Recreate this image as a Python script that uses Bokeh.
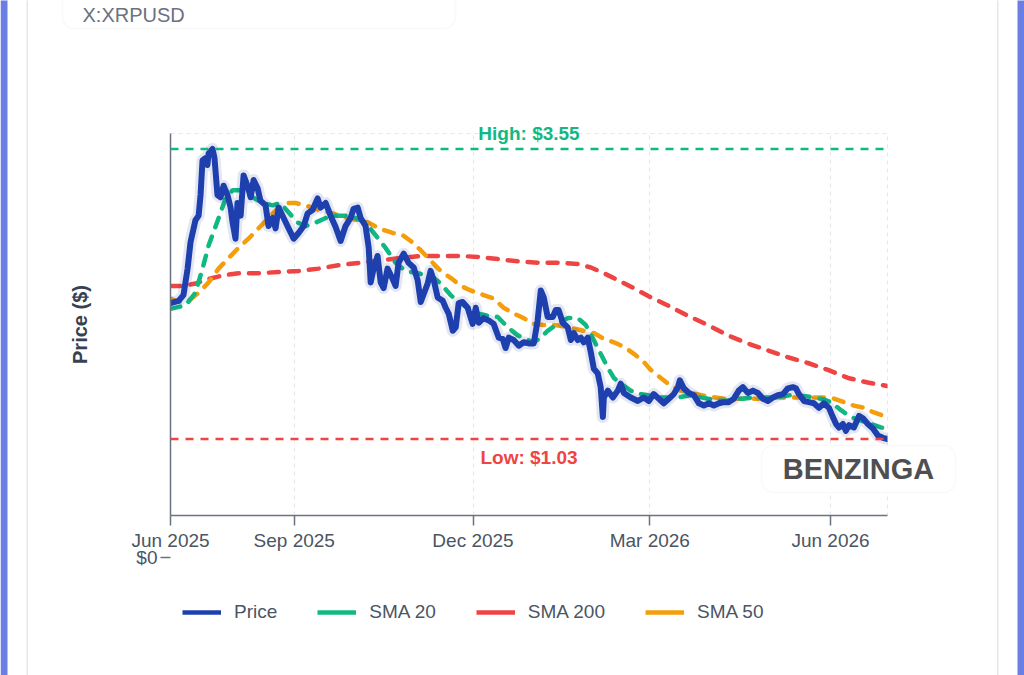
import pandas as pd
from bokeh.plotting import figure
from bokeh.models import (Range1d, FixedTicker, DatetimeTickFormatter, Span, Label,
                          BoxAnnotation, Legend, LegendItem)
from bokeh.embed import file_html
from bokeh.resources import INLINE

# ---------------- data ----------------
START_DATE = "2025-06-30"
END_DATE = "2026-06-30"
tick_dates = ["2025-06-30", "2025-09-01", "2025-12-01", "2026-03-01", "2026-06-01"]
HIGH = 3.55
LOW = 1.03
Y_MIN, Y_MAX = 0.365, 3.684
series_names = ["Price", "SMA 20", "SMA 200", "SMA 50"]

# day offsets from START_DATE
price_days = [0, 4.1, 6.6, 8.7, 10.2, 12.7, 14.3, 15.3, 16.3, 17.8,
              18.8, 19.4, 21.4, 22.4, 23.9, 25.5, 27.0, 29.0, 30.6, 31.6,
              33.1, 34.1, 35.7, 37.2, 39.2, 40.8, 42.3, 44.3, 45.8, 48.4,
              49.9, 52.0, 53.5, 55.0, 57.6, 60.1, 62.7, 65.2, 67.8, 69.8,
              72.3, 74.9, 76.4, 79.0, 81.5, 84.1, 86.6, 89.1, 91.7, 93.2,
              95.3, 96.8, 99.3, 100.9, 101.9, 103.4, 105.4, 107.0, 108.5, 110.5,
              113.1, 114.6, 116.1, 118.7, 121.2, 123.8, 125.8, 127.4, 128.9, 130.9,
              132.4, 134.0, 136.0, 138.6, 140.1, 141.6, 143.7, 145.2, 146.7, 148.7,
              151.3, 153.8, 155.4, 156.9, 159.4, 162.0, 164.5, 167.1, 169.1, 170.6,
              172.2, 174.7, 177.3, 179.8, 182.4, 184.9, 186.9, 188.5, 190.0, 192.0,
              194.6, 196.1, 197.6, 199.7, 202.2, 203.8, 205.3, 207.3, 208.9, 210.4,
              212.4, 214.0, 215.5, 217.5, 219.0, 220.1, 220.6, 222.6, 225.2, 227.7,
              229.2, 230.8, 234.3, 237.9, 240.9, 243.5, 246.0, 248.6, 251.1, 253.7,
              256.2, 258.3, 259.3, 261.3, 263.9, 266.4, 269.0, 271.5, 274.1, 276.6,
              279.2, 281.7, 284.2, 286.8, 289.3, 291.4, 293.9, 296.5, 299.0, 301.6,
              304.1, 306.7, 309.2, 311.8, 314.3, 316.8, 318.4, 319.9, 322.5, 325.0,
              327.5, 330.1, 332.6, 335.2, 337.2, 338.8, 340.3, 342.3, 343.8, 345.4,
              347.9, 350.5, 352.5, 355.0, 357.6, 360.1, 362.6, 365.0]
price_vals = [2.21, 2.23, 2.28, 2.51, 2.74, 2.93, 2.97, 3.15, 3.45, 3.47,
              3.41, 3.51, 3.55, 3.47, 3.15, 3.13, 3.23, 3.15, 3.04, 2.91,
              2.77, 3.08, 2.97, 3.32, 3.23, 3.13, 3.28, 3.21, 3.10, 3.06,
              2.88, 2.95, 2.86, 3.04, 2.95, 2.86, 2.77, 2.82, 2.88, 2.99,
              3.02, 3.12, 3.04, 3.08, 2.97, 2.87, 2.75, 2.88, 2.95, 3.03,
              3.04, 2.95, 2.88, 2.69, 2.39, 2.51, 2.62, 2.39, 2.34, 2.51,
              2.42, 2.36, 2.56, 2.64, 2.56, 2.52, 2.41, 2.22, 2.29, 2.38,
              2.49, 2.41, 2.26, 2.23, 2.17, 2.12, 1.97, 2.00, 2.21, 2.22,
              2.17, 2.03, 2.17, 2.04, 2.08, 2.06, 2.03, 1.91, 1.90, 1.82,
              1.91, 1.89, 1.84, 1.87, 1.86, 1.86, 2.06, 2.32, 2.26, 2.09,
              2.09, 2.15, 2.15, 2.04, 2.00, 1.89, 1.95, 1.89, 1.91, 1.87,
              1.91, 1.78, 1.64, 1.60, 1.48, 1.22, 1.39, 1.45, 1.39, 1.45,
              1.51, 1.43, 1.39, 1.36, 1.39, 1.36, 1.42, 1.38, 1.34, 1.38,
              1.42, 1.48, 1.54, 1.47, 1.43, 1.41, 1.34, 1.32, 1.34, 1.32,
              1.34, 1.35, 1.35, 1.38, 1.45, 1.48, 1.43, 1.45, 1.43, 1.38,
              1.36, 1.39, 1.41, 1.42, 1.47, 1.48, 1.47, 1.42, 1.36, 1.35,
              1.34, 1.30, 1.34, 1.30, 1.22, 1.16, 1.13, 1.16, 1.10, 1.15,
              1.13, 1.23, 1.21, 1.16, 1.12, 1.06, 1.04, 1.03]

sma20_days = [0, 7.6, 12.7, 16.3, 19.4, 24.5, 28.0, 31.6, 36.7, 41.8,
              46.9, 52.0, 56.0, 60.1, 64.7, 68.8, 73.9, 79.0, 84.1, 89.1,
              94.2, 99.3, 104.4, 109.5, 114.6, 119.7, 125.8, 130.9, 134.0, 137.5,
              142.6, 146.7, 151.3, 156.4, 161.5, 166.6, 171.7, 176.8, 181.9, 184.9,
              188.5, 192.0, 197.1, 202.2, 207.3, 211.4, 215.5, 219.0, 222.6, 225.7,
              229.2, 234.3, 239.4, 249.6, 258.3, 264.9, 273.6, 281.7, 290.4, 299.0,
              307.2, 315.8, 324.5, 331.1, 336.2, 341.3, 346.4, 351.5, 356.6, 361.7,
              365.0]
sma20_vals = [2.16, 2.19, 2.30, 2.51, 2.71, 2.95, 3.12, 3.19, 3.19, 3.13,
              3.08, 3.06, 3.08, 3.00, 2.91, 2.88, 2.91, 2.95, 2.97, 2.97,
              2.95, 2.91, 2.80, 2.69, 2.56, 2.49, 2.47, 2.45, 2.43, 2.38,
              2.28, 2.22, 2.17, 2.12, 2.10, 2.09, 2.00, 1.93, 1.89, 1.87,
              1.91, 1.97, 2.03, 2.08, 2.08, 2.02, 1.89, 1.77, 1.65, 1.56,
              1.51, 1.45, 1.42, 1.39, 1.39, 1.41, 1.38, 1.36, 1.38, 1.39,
              1.39, 1.41, 1.40, 1.38, 1.35, 1.28, 1.22, 1.19, 1.16, 1.13,
              1.12]

sma50_days = [0, 4.1, 9.2, 14.3, 19.4, 24.5, 29.5, 34.6, 39.7, 44.8,
              49.9, 55.0, 59.6, 63.7, 68.8, 75.4, 82.5, 89.1, 95.8, 100.9,
              106.0, 113.1, 118.2, 122.3, 127.4, 132.4, 137.5, 142.6, 147.7, 152.8,
              159.4, 164.5, 169.6, 174.7, 179.8, 184.9, 190.0, 195.1, 200.2, 205.3,
              210.4, 215.5, 220.6, 225.7, 230.8, 235.9, 240.9, 244.5, 249.6, 254.7,
              259.8, 264.9, 273.6, 281.7, 290.4, 299.0, 307.2, 315.8, 324.5, 332.6,
              337.7, 342.8, 347.9, 353.0, 358.1, 365.0]
sma50_vals = [2.25, 2.22, 2.23, 2.30, 2.39, 2.51, 2.60, 2.69, 2.77, 2.86,
              2.95, 3.04, 3.08, 3.08, 3.06, 3.02, 2.99, 2.95, 2.93, 2.91,
              2.86, 2.82, 2.80, 2.75, 2.67, 2.58, 2.49, 2.43, 2.36, 2.32,
              2.28, 2.25, 2.17, 2.12, 2.08, 2.03, 2.02, 2.02, 2.01, 1.99,
              1.97, 1.95, 1.90, 1.87, 1.83, 1.77, 1.70, 1.63, 1.56, 1.49,
              1.45, 1.43, 1.40, 1.38, 1.38, 1.38, 1.39, 1.39, 1.39, 1.39,
              1.38, 1.35, 1.32, 1.30, 1.26, 1.22]

sma200_days = [0, 6.1, 12.7, 19.4, 26.5, 34.6, 44.8, 55.0, 65.2, 75.4,
               85.6, 95.8, 106.0, 116.1, 127.4, 137.5, 147.7, 157.9, 168.1, 178.3,
               188.5, 198.7, 207.3, 214.0, 220.6, 227.7, 235.9, 244.5, 253.2, 263.4,
               273.6, 283.7, 293.9, 304.1, 314.3, 324.5, 334.7, 344.9, 355.0, 365.0]
sma200_vals = [2.36, 2.36, 2.38, 2.42, 2.45, 2.47, 2.47, 2.48, 2.49, 2.51,
               2.54, 2.56, 2.58, 2.60, 2.62, 2.62, 2.62, 2.61, 2.59, 2.57,
               2.56, 2.56, 2.55, 2.52, 2.47, 2.41, 2.34, 2.26, 2.19, 2.10,
               2.02, 1.93, 1.86, 1.80, 1.74, 1.69, 1.63, 1.56, 1.52, 1.49]

# ---------------- layout / styling ----------------
W, H = 1024, 675
FRAME_L, FRAME_R, FRAME_T, FRAME_B = 170, 887, 133, 515
BLUE = "#1e40af"
GREEN = "#10b981"
RED = "#ef4444"
ORANGE = "#f59e0b"
AXIS = "#6b7280"
TEXT = "#4b5563"
FONT = "Liberation Sans"
DAY_MS = 86400000.0
SMA_DASH = "10 10"

start = pd.Timestamp(START_DATE)
end = pd.Timestamp(END_DATE)


def to_dates(days):
    return [start + pd.Timedelta(days=d) for d in days]


def ms(ts):
    return pd.Timestamp(ts).value / 1e6


# ---------- main chart ----------
p = figure(width=W, height=H, x_axis_type="datetime",
           x_range=Range1d(start, end), y_range=Range1d(Y_MIN, Y_MAX),
           output_backend="svg", toolbar_location=None,
           min_border_left=FRAME_L, min_border_right=W - FRAME_R,
           min_border_top=FRAME_T, min_border_bottom=H - FRAME_B,
           background_fill_color="white", border_fill_color="white",
           outline_line_color="#e5e7eb", outline_line_dash="4 4", outline_line_width=1)

ticker = FixedTicker(ticks=[ms(t) for t in tick_dates])
p.xaxis.ticker = ticker
fmt = "%b %Y"
p.xaxis.formatter = DatetimeTickFormatter(days=fmt, months=fmt, years=fmt, hours=fmt,
                                          hourmin=fmt, minutes=fmt, minsec=fmt,
                                          seconds=fmt, milliseconds=fmt, microseconds=fmt)
p.xaxis.axis_line_color = AXIS
p.xaxis.axis_line_width = 1.5
p.xaxis.major_tick_line_color = AXIS
p.xaxis.major_tick_line_width = 1.5
p.xaxis.major_tick_out = 10
p.xaxis.major_tick_in = 0
p.xaxis.minor_tick_line_color = None
p.xaxis.major_label_text_font = FONT
p.xaxis.major_label_text_font_size = "19px"
p.xaxis.major_label_text_color = TEXT
p.xaxis.major_label_standoff = 4

p.xgrid.ticker = ticker
p.xgrid.grid_line_color = "#e5e7eb"
p.xgrid.grid_line_dash = "4 4"
p.ygrid.visible = False

p.yaxis.ticker = FixedTicker(ticks=[])
p.yaxis.axis_line_color = AXIS
p.yaxis.axis_line_width = 1.5
p.yaxis.major_tick_line_color = None
p.yaxis.minor_tick_line_color = None
p.yaxis.major_tick_out = 0
p.yaxis.axis_label = "Price ($)"
p.yaxis.axis_label_text_font = FONT
p.yaxis.axis_label_text_font_size = "20px"
p.yaxis.axis_label_text_font_style = "bold"
p.yaxis.axis_label_text_color = "#374151"
p.yaxis.axis_label_standoff = 80

p.add_layout(Span(location=HIGH, dimension="width", line_color=GREEN,
                  line_dash="8 7", line_width=2.5))
p.add_layout(Span(location=LOW, dimension="width", line_color=RED,
                  line_dash="8 7", line_width=2.5))

p.line(to_dates(sma200_days), sma200_vals, line_color=RED, line_width=4.5,
       line_dash=SMA_DASH, line_cap="round")
p.line(to_dates(sma50_days), sma50_vals, line_color=ORANGE, line_width=4.5,
       line_dash=SMA_DASH, line_cap="round")
p.line(to_dates(sma20_days), sma20_vals, line_color=GREEN, line_width=4.5,
       line_dash=SMA_DASH, line_cap="round")
price_x = to_dates(price_days)
p.line(price_x, price_vals, line_color="#1e3a8a", line_alpha=0.12, line_width=12,
       line_join="round", line_cap="round")
p.line(price_x, price_vals, line_color=BLUE, line_width=6,
       line_join="round", line_cap="round")

# ---------- transparent overlay (own root) sharing the same data mapping over the page ----------
px_per_day = (FRAME_R - FRAME_L) / ((end - start).total_seconds() / 86400.0)
px_per_usd = (FRAME_B - FRAME_T) / (Y_MAX - Y_MIN)
ov_x0 = ms(start) - FRAME_L / px_per_day * DAY_MS
ov_x1 = ms(end) + (W - FRAME_R) / px_per_day * DAY_MS
ov_y1 = Y_MAX + FRAME_T / px_per_usd
ov_y0 = Y_MIN - (H - FRAME_B) / px_per_usd

ov = figure(width=W, height=H, x_range=Range1d(ov_x0, ov_x1), y_range=Range1d(ov_y0, ov_y1),
            output_backend="svg", toolbar_location=None,
            x_axis_location=None, y_axis_location=None,
            min_border=0, min_border_left=0, min_border_right=0,
            min_border_top=0, min_border_bottom=0,
            background_fill_alpha=0, border_fill_alpha=0, outline_line_color=None)
ov.grid.visible = False
ov.styles = {"position": "absolute", "left": "0px", "top": "0px"}


def cbox(left, right, top_px, bottom_px, **kw):
    return BoxAnnotation(left=left, right=right, top=top_px, bottom=bottom_px,
                         left_units="canvas", right_units="canvas",
                         top_units="canvas", bottom_units="canvas", **kw)


# page decoration
ov.add_layout(cbox(0, 7, -5, 680, fill_color="#6a7ee6", fill_alpha=1, line_color=None))
ov.add_layout(cbox(1017, 1024, -5, 680, fill_color="#6a7ee6", fill_alpha=1, line_color=None))
ov.add_layout(cbox(26, 27.5, -5, 680, fill_color="#e5e7eb", fill_alpha=1, line_color=None))
ov.add_layout(cbox(996.5, 998, -5, 680, fill_color="#e5e7eb", fill_alpha=1, line_color=None))

# title card
ov.add_layout(cbox(62, 455, -20, 28, fill_color="white", fill_alpha=1,
                   line_color="#ececec", line_width=1.5, border_radius=12))
ov.add_layout(Label(x=82, y=14, x_units="canvas", y_units="canvas", text="X:XRPUSD",
                    text_align="left", text_baseline="middle", text_font=FONT,
                    text_font_size="20px", text_color=AXIS))

# high / low labels
mid = ms(start) + 182.5 * DAY_MS
ov.add_layout(Label(x=mid, y=HIGH, text=f"High: ${HIGH:.2f}", text_align="center",
                    text_baseline="middle", y_offset=15, text_font=FONT,
                    text_font_size="19px", text_font_style="bold", text_color=GREEN))
ov.add_layout(Label(x=mid, y=LOW, text=f"Low: ${LOW:.2f}", text_align="center",
                    text_baseline="middle", y_offset=-19, text_font=FONT,
                    text_font_size="19px", text_font_style="bold", text_color=RED))

# "$0" y tick sitting below the frame
ov.add_layout(Label(x=FRAME_L - 13, y=0, x_units="canvas", text="$0",
                    text_align="right", text_baseline="middle", text_font=FONT,
                    text_font_size="19px", text_color=TEXT))
zero_px = FRAME_T + (Y_MAX - 0) * px_per_usd
ov.add_layout(cbox(FRAME_L - 10, FRAME_L, zero_px - 0.75, zero_px + 0.75,
                   fill_color=AXIS, fill_alpha=1, line_color=None))

# watermark
ov.add_layout(cbox(761, 955, 445, 492, fill_color="white", fill_alpha=0.9,
                   line_color="#ececec", line_width=1.5, border_radius=12))
ov.add_layout(Label(x=858, y=468, x_units="canvas", y_units="canvas", text="BENZINGA",
                    text_align="center", text_baseline="middle", text_font=FONT,
                    text_font_size="29px", text_font_style="bold", text_color="#4f4f52"))

# legend: solid-line proxies holding only each series' first point (draw nothing themselves)
first_pts = [(price_days[0], price_vals[0]), (sma20_days[0], sma20_vals[0]),
             (sma200_days[0], sma200_vals[0]), (sma50_days[0], sma50_vals[0])]
proxies = [ov.line(x=[ms(start) + d * DAY_MS], y=[v], line_color=c, line_width=4.5)
           for (d, v), c in zip(first_pts, (BLUE, GREEN, RED, ORANGE))]
legend = Legend(items=[LegendItem(label=n, renderers=[r]) for n, r in zip(series_names, proxies)],
                orientation="horizontal", location=(182, 41),
                glyph_width=39, glyph_height=20, label_height=44,
                label_standoff=13, spacing=40,
                padding=0, margin=0, border_line_color=None, background_fill_alpha=0,
                label_text_font=FONT, label_text_font_size="19px",
                label_text_color=TEXT, label_text_baseline="middle")
ov.add_layout(legend, "center")

open("out.html", "w").write(file_html([p, ov], INLINE))
